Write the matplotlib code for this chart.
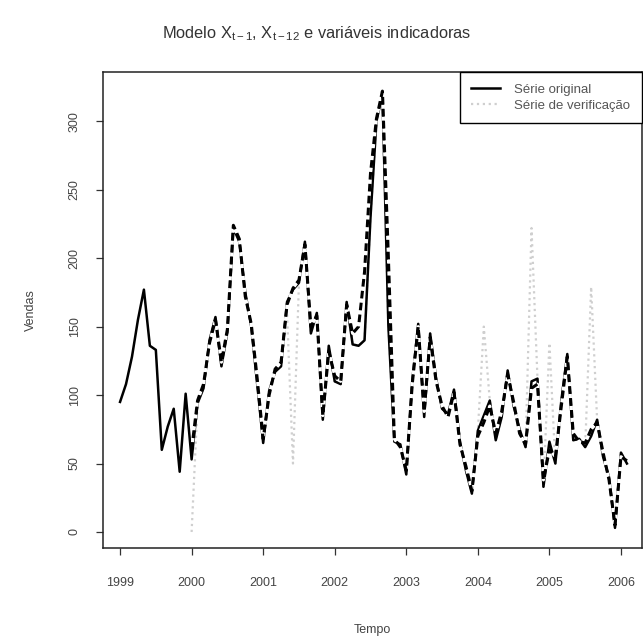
import numpy as np
import matplotlib
matplotlib.use("Agg")
import matplotlib.pyplot as plt

plt.rcParams['font.family'] = ['Liberation Sans', 'DejaVu Sans']
plt.rcParams['mathtext.fontset'] = 'custom'
plt.rcParams['mathtext.rm'] = 'Liberation Sans'
plt.rcParams['mathtext.it'] = 'Liberation Sans:italic'

# serie mensal, jan/1999 a fev/2006
inicio = 1999
original = [95, 108, 128, 155, 177, 136, 133, 60, 77, 90, 44, 101,
            53, 94, 105, 140, 157, 121, 146, 222, 212, 175, 150, 108,
            65, 103, 117, 121, 168, 177, 182, 212, 145, 160, 82, 136,
            110, 108, 168, 137, 136, 140, 230, 300, 320, 150, 66, 64,
            42, 110, 152, 84, 145, 112, 90, 86, 104, 66, 45, 28,
            74, 85, 96, 67, 84, 118, 92, 75, 62, 110, 112, 33,
            66, 50, 96, 130, 67, 68, 62, 70, 82, 55, 40, 3,
            58, 50]

# valores ajustados pelo modelo (a partir de jan/2000)
ajustado = [60, 96, 108, 138, 155, 124, 148, 224, 214, 172, 152, 112,
            68, 100, 119, 124, 166, 178, 184, 210, 150, 158, 85, 132,
            114, 110, 166, 145, 150, 190, 262, 302, 322, 200, 68, 62,
            45, 108, 150, 88, 142, 110, 92, 84, 102, 64, 48, 30,
            70, 80, 92, 72, 88, 115, 95, 72, 64, 105, 108, 38,
            60, 55, 92, 128, 72, 66, 65, 75, 80, 58, 38, 5,
            55, 52]

# serie de verificacao (a partir de jan/2000)
verificacao = [0, 94, 105, 140, 157, 121, 146, 222, 212, 175, 150, 108,
               65, 103, 117, 121, 160, 50, 182, 212, 145, 160, 82, 136,
               110, 108, 168, 137, 136, 140, 230, 300, 320, 150, 66, 64,
               42, 110, 152, 84, 145, 112, 90, 86, 104, 66, 45, 28,
               74, 150, 96, 67, 84, 118, 92, 75, 62, 222, 112, 33,
               138, 50, 96, 130, 67, 68, 62, 179, 82, 55, 40, 3,
               58, 50]

t_orig = inicio + np.arange(len(original)) / 12
t_aj = inicio + 1 + np.arange(len(ajustado)) / 12
t_ver = inicio + 1 + np.arange(len(verificacao)) / 12

fig = plt.figure(figsize=(6.43, 6.39), dpi=100)
ax = fig.add_axes([0.160, 0.1424, 0.838, 0.7446])

ax.plot(t_ver, verificacao, color='#cfcfcf', linestyle=':', linewidth=1.6, zorder=1)
ax.plot(t_orig, original, color='black', linewidth=1.8, zorder=2, label='Série original')
ax.plot(t_aj, ajustado, color='black', linewidth=2.2, zorder=3,
        dashes=(2.5, 1.4), gapcolor='white')
# entrada da legenda para a verificacao
ax.plot([], [], color='#cfcfcf', linestyle=':', linewidth=1.6, label='Série de verificação')

ax.set_xlim(1998.76, 2006.29)
ax.set_ylim(-11.7, 335.8)
ax.set_xticks(range(1999, 2007))
ax.set_yticks(range(0, 301, 50))
for s in ax.spines.values():
    s.set_color('#222222')
    s.set_linewidth(1.1)
ax.tick_params(axis='both', length=5, width=0.9, color='#333333',
               labelcolor='#444444', labelsize=9)
ax.tick_params(axis='x', pad=16)
ax.tick_params(axis='y', pad=11)
plt.setp(ax.get_yticklabels(), rotation=90, va='center')

ax.set_xlabel('Tempo', fontsize=9, color='#444444', labelpad=25)
ax.set_ylabel('Vendas', fontsize=9, color='#444444', labelpad=23)
fig.text(0.492, 0.948, 'Modelo X$_{\\mathrm{t-1}}$, X$_{\\mathrm{t-12}}$ e variáveis indicadoras',
         ha='center', va='center', fontsize=11.8, color='#333333')

leg = ax.legend(loc='upper right', borderaxespad=0, fancybox=False, framealpha=1,
                edgecolor='black', fontsize=9.5, handlelength=2.2, labelcolor='#555555',
                borderpad=0.85, labelspacing=0.3, handletextpad=1.1)
leg.get_frame().set_linewidth(1.0)

fig.savefig('out.png', dpi=100)
